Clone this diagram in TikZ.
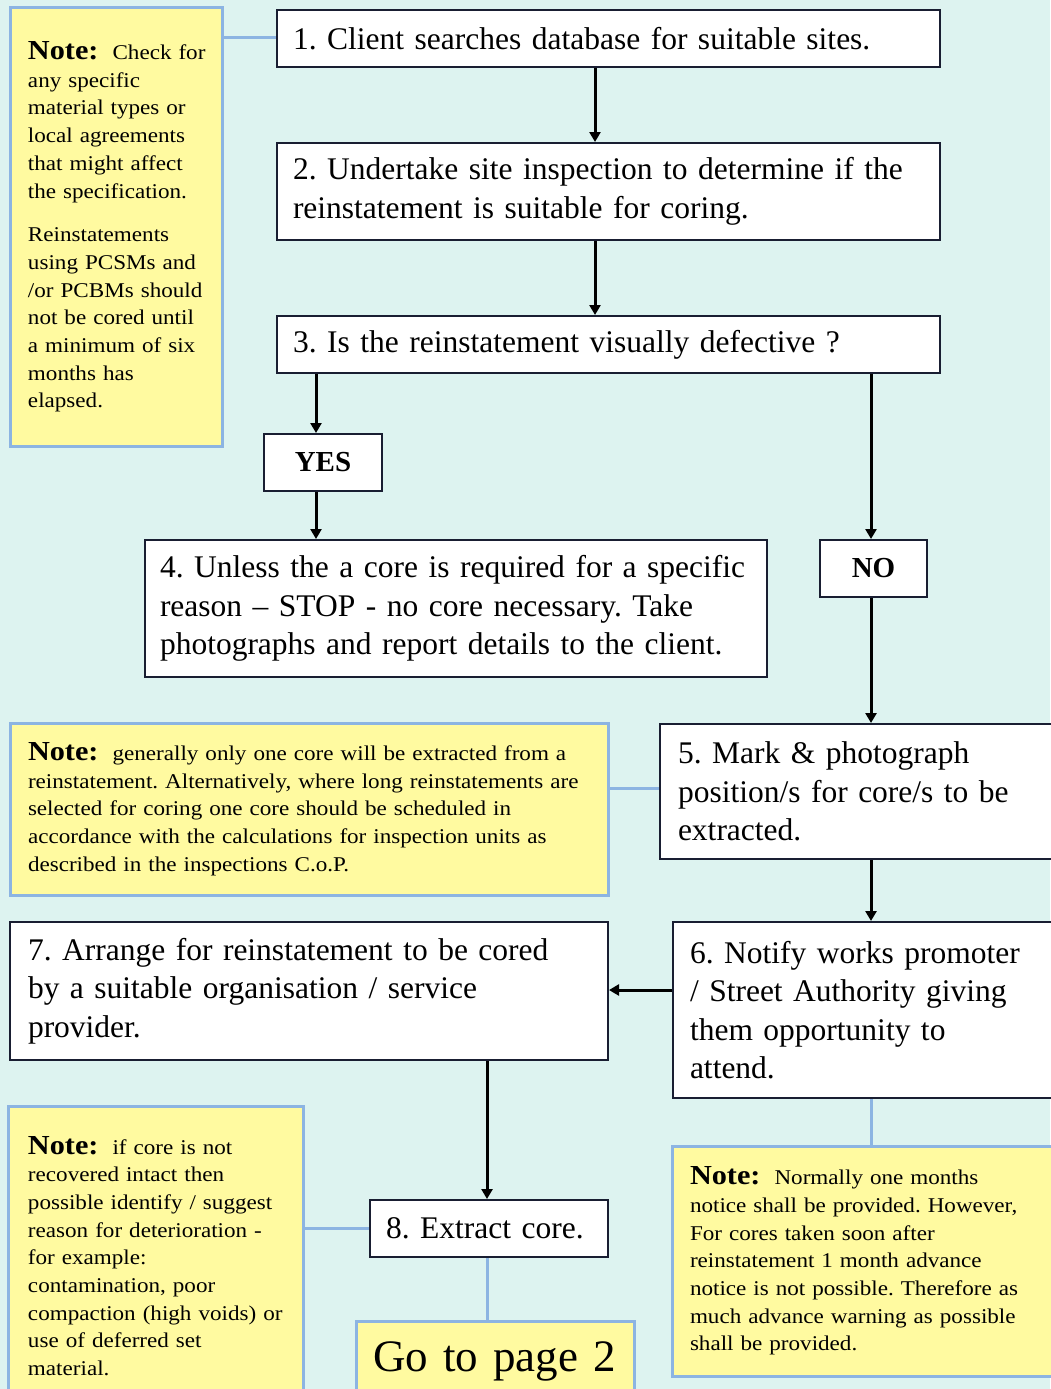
\documentclass[tikz,border=0pt]{standalone}
\usepackage{fontspec}
\setmainfont{Liberation Serif}
\newfontfamily\notefont[FakeStretch=1.1]{Liberation Serif}
\usetikzlibrary{arrows.meta}
\definecolor{bgc}{RGB}{221,243,240}
\definecolor{notefill}{RGB}{255,250,160}
\definecolor{noteline}{RGB}{140,180,226}
\definecolor{boxline}{RGB}{25,30,50}
\tikzset{
  stepbox/.style={draw=boxline, line width=2pt, fill=white, inner xsep=16pt, inner ysep=0pt, align=left, font=\frenchspacing\fontsize{31.5}{38.5}\selectfont},
  notebox/.style={draw=noteline, line width=3pt, fill=notefill, inner xsep=16pt, inner ysep=0pt, align=left, font=\notefont\frenchspacing\fontsize{21}{27.7}\selectfont},
  flow/.style={line width=3pt, -{Triangle[width=11pt,length=10pt]}},
  link/.style={draw=noteline, line width=3pt},
  lbl/.style={draw=boxline, line width=2pt, fill=white, font=\bfseries\fontsize{29}{30}\selectfont}
}
\newcommand{\NoteHd}{{\bfseries\fontsize{27.5}{28}\selectfont Note:}\ \ }
\begin{document}
\begin{tikzpicture}[x=1pt,y=-1pt]
\useasboundingbox (0,0) rectangle (1050,1389);
\fill[bgc] (0,0) rectangle (1050,1389);

% step boxes
\node[stepbox, minimum width=663pt, minimum height=57pt, text width=631pt] (b1) at (608.5,38.5) {1. Client searches database for suitable sites.};
\node[stepbox, minimum width=663pt, minimum height=97pt, text width=631pt] (b2) at (608.5,191.5) {2. Undertake site inspection to determine if the\\ reinstatement is suitable for coring.};
\node[stepbox, minimum width=663pt, minimum height=57pt, text width=631pt] (b3) at (608.5,344.5) {3. Is the reinstatement visually defective ?};
\node[lbl, minimum width=118pt, minimum height=57pt] (yes) at (323,462.5) {YES};
\node[stepbox, minimum width=622pt, minimum height=137pt, text width=592pt, inner xsep=15pt] (b4) at (456,608.5) {4. Unless the a core is required for a specific\\ reason -- STOP - no core necessary. Take\\ photographs and report details to the client.};
\node[lbl, minimum width=107pt, minimum height=57pt] (no) at (873.5,568.5) {NO};
\node[stepbox, minimum width=400pt, minimum height=135pt, text width=364pt, inner xsep=18pt] (b5) at (860,791.5) {5. Mark \& photograph\\ position/s for core/s to be\\ extracted.};
\node[stepbox, minimum width=400pt, minimum height=176pt, text width=366pt, inner xsep=17pt] (b6) at (873,1010) {6. Notify works promoter\\ / Street Authority giving\\ them opportunity to\\ attend.};
\node[stepbox, minimum width=598pt, minimum height=138pt, text width=562pt, inner xsep=18pt] (b7) at (309,991) {7. Arrange for reinstatement to be cored\\ by a suitable organisation / service\\ provider.};
\node[stepbox, minimum width=238pt, minimum height=57pt, text width=206pt] (b8) at (489,1228.5) {8. Extract core.};

% notes
\node[notebox, minimum width=212pt, minimum height=438pt, text width=194pt, inner xsep=9pt] (n1) at (116,227) {\hspace*{9pt}\NoteHd Check for\\ \hspace*{9pt}any specific\\ \hspace*{9pt}material types or\\ \hspace*{9pt}local agreements\\ \hspace*{9pt}that might affect\\ \hspace*{9pt}the specification.\\[16pt] \hspace*{9pt}Reinstatements\\ \hspace*{9pt}using PCSMs and\\ \hspace*{9pt}/or PCBMs should\\ \hspace*{9pt}not be cored until\\ \hspace*{9pt}a minimum of six\\ \hspace*{9pt}months has\\ \hspace*{9pt}elapsed.\\[14pt]};
\node[notebox, minimum width=598pt, minimum height=172pt, text width=574pt, inner xsep=12pt] (n2) at (309,809) {\hspace*{6pt}\NoteHd generally only one core will be extracted from a\\ \hspace*{6pt}reinstatement. Alternatively, where long reinstatements are\\ \hspace*{6pt}selected for coring one core should be scheduled in\\ \hspace*{6pt}accordance with the calculations for inspection units as\\ \hspace*{6pt}described in the inspections C.o.P.};
\node[notebox, minimum width=295pt, minimum height=300pt, text width=279pt, inner xsep=8pt] (n3) at (155.5,1256) {\hspace*{12pt}\NoteHd if core is not\\ \hspace*{12pt}recovered intact then\\ \hspace*{12pt}possible identify / suggest\\ \hspace*{12pt}reason for deterioration -\\ \hspace*{12pt}for example:\\ \hspace*{12pt}contamination, poor\\ \hspace*{12pt}compaction (high voids) or\\ \hspace*{12pt}use of deferred set\\ \hspace*{12pt}material.\\[14pt]};
\node[notebox, minimum width=400pt, minimum height=230pt, text width=382pt, inner xsep=9pt] (n4) at (872,1261) {\hspace*{9pt}\NoteHd Normally one months\\ \hspace*{9pt}notice shall be provided. However,\\ \hspace*{9pt}For cores taken soon after\\ \hspace*{9pt}reinstatement 1 month advance\\ \hspace*{9pt}notice is not possible. Therefore as\\ \hspace*{9pt}much advance warning as possible\\ \hspace*{9pt}shall be provided.};
\node[notebox, anchor=north west, minimum width=278pt, text width=258pt, inner xsep=10pt, inner ysep=18pt, text height=32pt, text depth=60pt, font=\fontsize{45}{46}\selectfont] (go) at (355,1320) {\hspace*{7pt}Go to page 2};

% connectors
\draw[flow] (b1.south -| 595,0) -- (b2.north -| 595,0);
\draw[flow] (b2.south -| 595,0) -- (b3.north -| 595,0);
\draw[flow] (b3.south -| 316,0) -- (yes.north -| 316,0);
\draw[flow] (yes.south -| 316,0) -- (b4.north -| 316,0);
\draw[flow] (b3.south -| 871,0) -- (no.north -| 871,0);
\draw[flow] (no.south -| 871,0) -- (b5.north -| 871,0);
\draw[flow] (b5.south -| 871,0) -- (b6.north -| 871,0);
\draw[flow] (b6.west |- 0,990) -- (b7.east |- 0,990);
\draw[flow] (b7.south -| 487,0) -- (b8.north -| 487,0);
\draw[link] (n1.east |- 0,38) -- (b1.west |- 0,38);
\draw[link] (n2.east |- 0,788) -- (b5.west |- 0,788);
\draw[link] (n3.east |- 0,1228) -- (b8.west |- 0,1228);
\draw[link] (b8.south -| 487,0) -- (go.north -| 487,0);
\draw[link] (b6.south -| 871,0) -- (n4.north -| 871,0);
\end{tikzpicture}
\end{document}
